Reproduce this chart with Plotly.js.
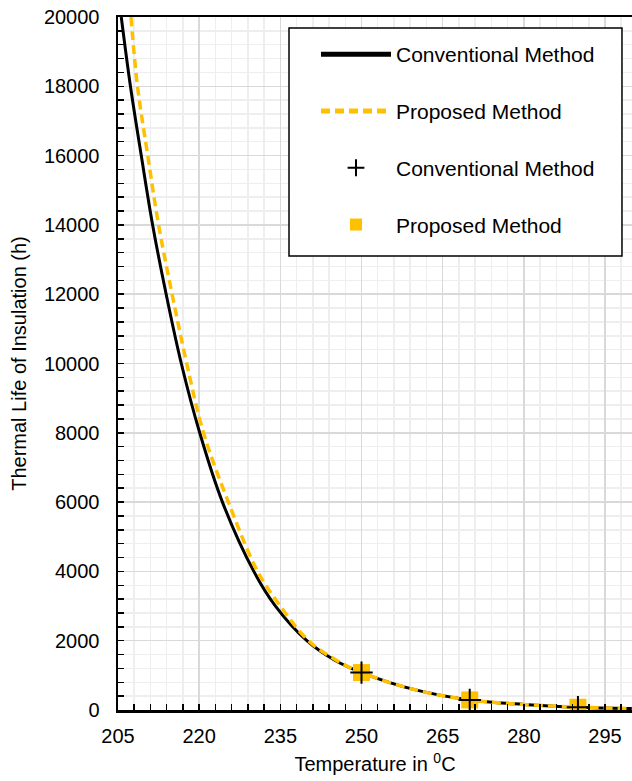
<!DOCTYPE html>
<html><head><meta charset="utf-8">
<script src="https://cdn.plot.ly/plotly-3.0.1.min.js"></script>
<style>html,body{margin:0;padding:0;background:#fff}#chart{width:632px;height:781px}</style>
</head><body><div id="chart"></div>
<script>
// Fitted curve: conventional method (temperature in °C, life in h)
const convCurveTemp = [205.6, 207.3, 209.3, 211.4, 213.9, 216.7, 220.1, 224.3, 230.1, 234.1, 239.9, 244.9, 250, 260, 270, 280, 290, 300];
const convCurveLife = [20000, 18000, 16000, 14000, 12000, 10000, 8000, 6000, 4000, 3000, 2000, 1450, 1080, 580, 290, 160, 80, 40];
// Fitted curve: proposed method
const propCurveTemp = [207.4, 208.6, 210.5, 212.5, 215.0, 217.7, 220.8, 225.4, 230.8, 235.0, 240.2, 245.2, 250, 260, 270, 280, 290, 300];
const propCurveLife = [20000, 18000, 16000, 14000, 12000, 10000, 8000, 6000, 4000, 3000, 2000, 1450, 1080, 580, 290, 160, 80, 40];
// Test points
const testTemp = [250, 270, 290];
const convTestLife = [1080, 290, 80];
const propTestLife = [1080, 290, 80];

const traces = [
  {x: convCurveTemp, y: convCurveLife, mode: 'lines', name: 'Conventional Method',
   line: {color: '#000000', width: 3, shape: 'spline', smoothing: 1},
   legendrank: 1, legendgroup: 'a'},
  {x: propCurveTemp, y: propCurveLife, mode: 'lines', name: 'Proposed Method',
   line: {color: '#FFC000', width: 3.5, dash: '9px,5px', shape: 'spline', smoothing: 1},
   legendrank: 2, legendgroup: 'b'},
  {x: testTemp, y: propTestLife, mode: 'markers', name: 'Proposed Method',
   marker: {symbol: 'square', size: 17, color: '#FFC000'},
   legendrank: 4, legendgroup: 'd'},
  {x: testTemp, y: convTestLife, mode: 'markers', name: 'Conventional Method',
   marker: {symbol: 'cross-thin', size: 16, color: '#000000', line: {color: '#000000', width: 2}},
   legendrank: 3, legendgroup: 'c'}
];

const layout = {
  width: 632, height: 781,
  margin: {l: 118, r: 0, t: 17, b: 71},
  paper_bgcolor: '#ffffff', plot_bgcolor: '#ffffff',
  font: {family: 'Liberation Sans, Arial, sans-serif', size: 20, color: '#000000'},
  xaxis: {
    range: [205, 299.99], tick0: 205, dtick: 15,
    ticks: 'inside', ticklen: 6, tickwidth: 1.5, tickcolor: '#000000',
    showline: true, linecolor: '#000000', linewidth: 2.5, mirror: true,
    showgrid: true, gridcolor: '#d9d9d9', gridwidth: 1.5, zeroline: false,
    minor: {dtick: 3, tick0: 205, ticks: 'inside', ticklen: 6, tickwidth: 1.5, tickcolor: '#000000',
            showgrid: true, gridcolor: '#eeeeee', gridwidth: 1.5},
    ticklabelstandoff: 6,
    title: {text: 'Temperature in <sup>0</sup>C', font: {size: 20}, standoff: 12}
  },
  yaxis: {
    range: [0, 20000], dtick: 2000, tickformat: 'd',
    ticks: 'inside', ticklen: 6, tickwidth: 1.5, tickcolor: '#000000',
    showline: true, linecolor: '#000000', linewidth: 2.5, mirror: false,
    showgrid: true, gridcolor: '#d9d9d9', gridwidth: 1.5, zeroline: false,
    minor: {dtick: 400, ticks: 'inside', ticklen: 6, tickwidth: 1.5, tickcolor: '#000000',
            showgrid: true, gridcolor: '#eeeeee', gridwidth: 1.5},
    ticklabelstandoff: 12,
    title: {text: 'Thermal Life of Insulation (h)', font: {size: 20}, standoff: 12}
  },
  shapes: [
    {type: 'rect', xref: 'paper', yref: 'paper', x0: 0.3327, x1: 0.9805, y0: 0.6551, y1: 0.9841,
     line: {color: '#000000', width: 1.5}, fillcolor: '#ffffff', layer: 'above'}
  ],
  showlegend: true,
  legend: {x: 0.3852, y: 0.9755, xanchor: 'left', yanchor: 'top',
           bgcolor: 'rgba(0,0,0,0)', borderwidth: 0,
           font: {size: 21}, traceorder: 'grouped', tracegroupgap: 26.5,
           itemsizing: 'constant', itemwidth: 70}
};

Plotly.newPlot('chart', traces, layout, {displayModeBar: false, staticPlot: true});
</script>
</body></html>
